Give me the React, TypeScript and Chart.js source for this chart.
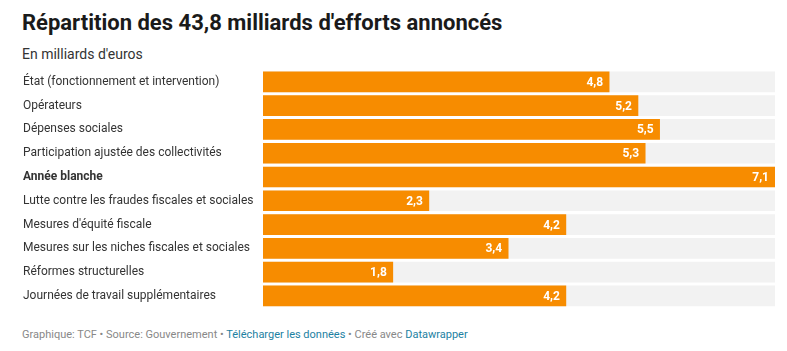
import React, { useEffect, useRef } from "react";
import { Chart, registerables } from "chart.js";

Chart.register(...registerables);

const categories = [
  "État (fonctionnement et intervention)",
  "Opérateurs",
  "Dépenses sociales",
  "Participation ajustée des collectivités",
  "Année blanche",
  "Lutte contre les fraudes fiscales et sociales",
  "Mesures d'équité fiscale",
  "Mesures sur les niches fiscales et sociales",
  "Réformes structurelles",
  "Journées de travail supplémentaires",
];
const values = [4.8, 5.2, 5.5, 5.3, 7.1, 2.3, 4.2, 3.4, 1.8, 4.2];
const boldCategory = "Année blanche";
const maxValue = 7.1;
const background = categories.map(() => maxValue);

const ORANGE = "#f78c00";
const GREY = "#f2f2f2";
const FONT = "Roboto, 'Noto Sans', sans-serif";

const valueLabels = {
  id: "valueLabels",
  afterDatasetsDraw(chart: any) {
    const ctx = chart.ctx;
    const meta = chart.getDatasetMeta(0);
    ctx.save();
    ctx.fillStyle = "#ffffff";
    ctx.font = `bold 12px ${FONT}`;
    ctx.textAlign = "right";
    ctx.textBaseline = "middle";
    meta.data.forEach((bar: any, i: number) => {
      ctx.fillText(values[i].toFixed(1).replace(".", ","), bar.x - 6, bar.y + 1);
    });
    ctx.restore();
  },
};

export default function App() {
  const ref = useRef<HTMLCanvasElement>(null);
  useEffect(() => {
    const chart = new Chart(ref.current!, {
      type: "bar",
      data: {
        labels: categories,
        datasets: [
          { data: values, backgroundColor: ORANGE, grouped: false, barThickness: 20 } as any,
          { data: background, backgroundColor: GREY, grouped: false, barThickness: 20 } as any,
        ],
      },
      options: {
        indexAxis: "y",
        animation: false,
        responsive: false,
        maintainAspectRatio: false,
        events: [],
        layout: { padding: { left: 23, right: 12, top: 10, bottom: 5 } },
        plugins: { legend: { display: false }, tooltip: { enabled: false } },
        scales: {
          x: { display: false, min: 0, max: maxValue },
          y: {
            grid: { display: false },
            border: { display: false },
            afterFit: (scale: any) => {
              scale.width = 240;
            },
            ticks: {
              crossAlign: "far",
              padding: 0,
              color: "#333333",
              font: (c: any) => ({
                family: FONT,
                size: 12,
                weight: categories[c.index] === boldCategory ? "bold" : "normal",
              }),
            },
          },
        },
      },
      plugins: [valueLabels],
    });
    return () => chart.destroy();
  }, []);

  return (
    <div style={{ position: "fixed", left: 0, top: 0, width: 787, height: 351, background: "#fff", fontFamily: FONT }}>
      <div style={{ position: "absolute", left: 22, top: 12, fontSize: 22, lineHeight: "22px", fontWeight: 700, color: "#1a1a1a", whiteSpace: "nowrap" }}>
        Répartition des 43,8 milliards d'efforts annoncés
      </div>
      <div style={{ position: "absolute", left: 22, top: 47, fontSize: 14, lineHeight: "14px", color: "#333", whiteSpace: "nowrap" }}>
        En milliards d'euros
      </div>
      <canvas ref={ref} width={787} height={255} style={{ position: "absolute", left: 0, top: 60, width: 787, height: 255 }} />
      <div style={{ position: "absolute", left: 22, top: 329, fontSize: 11, lineHeight: "11px", color: "#888", whiteSpace: "nowrap" }}>
        Graphique: TCF • Source: Gouvernement • <span style={{ color: "#1d81a2" }}>Télécharger les données</span> • Créé avec{" "}
        <span style={{ color: "#1d81a2" }}>Datawrapper</span>
      </div>
    </div>
  );
}
